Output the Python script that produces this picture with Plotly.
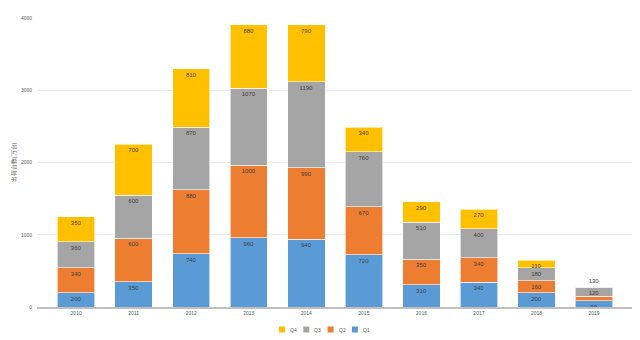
import plotly.graph_objects as go

years = ["2010", "2011", "2012", "2013", "2014", "2015", "2016", "2017", "2018", "2019"]
q1 = [200, 350, 740, 960, 940, 720, 310, 340, 200, 90]
q2 = [340, 600, 880, 1000, 990, 670, 350, 340, 160, 60]
q3 = [360, 600, 870, 1070, 1190, 760, 510, 400, 180, 120]
q4 = [350, 700, 810, 880, 790, 340, 290, 270, 110, 0]
q2_labels = ["340", "600", "880", "1000", "990", "670", "350", "340", "160", ""]
q4_labels = ["350", "700", "810", "880", "790", "340", "290", "270", "110", "130"]
y_ticks = [0, 1000, 2000, 3000, 4000]
y_title = "出荷台数(万台)"
legend_order = ["Q4", "Q3", "Q2", "Q1"]

colors = {"Q1": "#5B9BD5", "Q2": "#ED7D31", "Q3": "#A5A5A5", "Q4": "#FFC000"}
series = [
    ("Q1", q1, [str(v) for v in q1]),
    ("Q2", q2, q2_labels),
    ("Q3", q3, [str(v) for v in q3]),
    ("Q4", q4, q4_labels),
]

W, H = 640, 340
ML, MR, MT, MB = 37, 8, 18, 33
PW = W - ML - MR
PH = H - MT - MB

fig = go.Figure()
for name, vals, labels in series:
    pos = ["inside"] * len(vals)
    if name == "Q4":
        pos = ["outside" if v == 0 else "inside" for v in vals]
    fig.add_trace(go.Bar(
        x=years, y=vals, name=name, showlegend=False,
        marker=dict(color=colors[name], line=dict(color="rgba(255,255,255,0.6)", width=1)),
        text=labels, textposition=pos, insidetextanchor="end", textangle=0,
        textfont=dict(size=6, color="#404040", family="Liberation Sans, Arial, sans-serif"),
        cliponaxis=False,
    ))

# compact custom legend (Excel-like): small squares + labels
def px_x(p):
    return (p - ML) / PW
def px_y(p):
    return (H - MB - p) / PH

shapes, annotations = [], []
start, step, sq = 279, 24.3, 6
yc = 329.5
for i, name in enumerate(legend_order):
    x0 = start + i * step
    shapes.append(dict(type="rect", xref="paper", yref="paper",
                       x0=px_x(x0), x1=px_x(x0 + sq), y0=px_y(yc + sq / 2), y1=px_y(yc - sq / 2),
                       fillcolor=colors[name], line=dict(width=0)))
    annotations.append(dict(xref="paper", yref="paper", x=px_x(x0 + sq + 3), y=px_y(yc),
                            xanchor="left", yanchor="middle", text=name, showarrow=False,
                            font=dict(size=5, color="#595959")))

fig.update_layout(
    barmode="stack", bargap=0.35,
    width=W, height=H,
    margin=dict(l=ML, r=MR, t=MT, b=MB, autoexpand=False),
    paper_bgcolor="white", plot_bgcolor="white",
    font=dict(family="Liberation Sans, Arial, sans-serif", size=6, color="#595959"),
    uniformtext=dict(minsize=6, mode="show"),
    showlegend=False,
    shapes=shapes, annotations=annotations,
    xaxis=dict(type="category", range=[-0.68, 9.66], showgrid=False,
               showline=True, linecolor="#bfbfbf", linewidth=1.5,
               ticks="", tickfont=dict(size=5, color="#595959")),
    yaxis=dict(range=[0, 4000], tickvals=y_ticks, showgrid=True, gridcolor="#ebebeb",
               gridwidth=1, zeroline=False, showline=False, ticks="",
               tickfont=dict(size=5, color="#595959"), ticklabelstandoff=4,
               title=dict(text=y_title, font=dict(size=6, color="#595959"), standoff=3)),
)

fig.write_html("out.html")
